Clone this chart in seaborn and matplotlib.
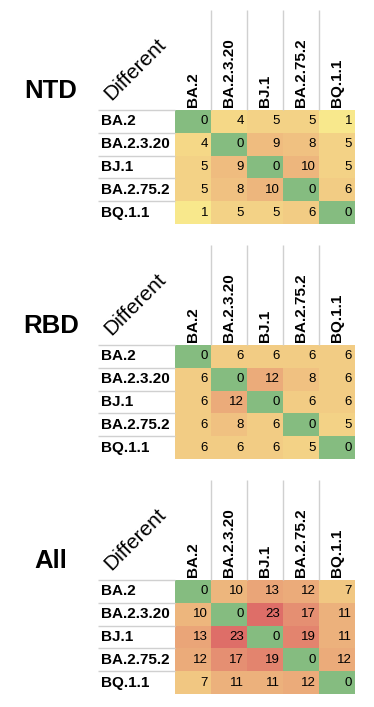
import numpy as np
import pandas as pd
import seaborn as sns
import matplotlib.pyplot as plt
from matplotlib.colors import LinearSegmentedColormap, ListedColormap

# variants and pairwise numbers of differing mutations
variants = ['BA.2', 'BA.2.3.20', 'BJ.1', 'BA.2.75.2', 'BQ.1.1']
regions = ['NTD', 'RBD', 'All']

ntd = [[0, 4, 5, 5, 1],
       [4, 0, 9, 8, 5],
       [5, 9, 0, 10, 5],
       [5, 8, 10, 0, 6],
       [1, 5, 5, 6, 0]]
rbd = [[0, 6, 6, 6, 6],
       [6, 0, 12, 8, 6],
       [6, 12, 0, 6, 6],
       [6, 8, 6, 0, 5],
       [6, 6, 6, 5, 0]]
all_diff = [[0, 10, 13, 12, 7],
            [10, 0, 23, 17, 11],
            [13, 23, 0, 19, 11],
            [12, 17, 19, 0, 12],
            [7, 11, 11, 12, 0]]

sns.set_theme(style='white')
plt.rcParams['font.family'] = ['Liberation Sans', 'DejaVu Sans']
plt.rcParams['text.color'] = 'black'
plt.rcParams['xtick.color'] = 'black'
plt.rcParams['ytick.color'] = 'black'

W, H = 374, 707
fig = plt.figure(figsize=(W / 100, H / 100), dpi=100)

cmap = LinearSegmentedColormap.from_list('yr', ['#F8E88C', '#DE6E68'])
green = ListedColormap(['#85BC80'])
diag = np.eye(len(variants), dtype=bool)
annot_kws = {'color': 'black', 'fontsize': 9.5}

for i, (name, mat) in enumerate(zip(regions, [ntd, rbd, all_diff])):
    top = 110 + 235 * i
    ax = fig.add_axes([175 / W, 1 - (top + 114) / H, 180 / W, 114 / H])
    df = pd.DataFrame(mat, index=variants, columns=variants)

    sns.heatmap(df, mask=diag, cmap=cmap, vmin=1, vmax=23, cbar=False,
                annot=True, fmt='d', annot_kws=annot_kws, ax=ax)
    sns.heatmap(df, mask=~diag, cmap=green, cbar=False,
                annot=True, fmt='d', annot_kws=annot_kws, ax=ax)

    # right-align numbers like a spreadsheet
    for t in ax.texts:
        x, y = t.get_position()
        t.set_position((x + 0.42, y))
        t.set_ha('right')

    ax.xaxis.tick_top()
    ax.set_xticklabels(variants, rotation=90, fontweight='bold', fontsize=11)
    ax.set_yticklabels(variants, rotation=0, fontweight='bold', fontsize=11, ha='left')
    ax.tick_params(axis='x', length=0, pad=2)
    ax.tick_params(axis='y', length=0, pad=53)
    ax.set_xlabel('')
    ax.set_ylabel('')

    # grid lines of the sheet
    ax.hlines(range(5), -77 / 36, 0, colors='#D0D0D0', lw=1, clip_on=False)
    ax.vlines([1, 2, 3, 4], 0, -100 / 22.8, colors='#D0D0D0', lw=1, clip_on=False)

    ax.text(-1.11, -1.8, 'Different', rotation=45, ha='center', va='center',
            rotation_mode='anchor', fontsize=15)
    fig.text(51 / W, 1 - (top - 19) / H, name, fontsize=18.5, fontweight='bold',
             ha='center', va='center')

fig.savefig('out.png', dpi=100)
